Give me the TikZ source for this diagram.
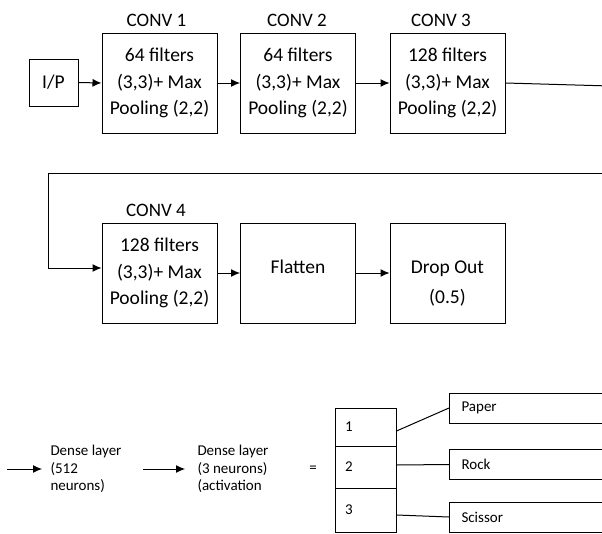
\documentclass[tikz,border=0pt]{standalone}
\usepackage{fontspec}
\setmainfont{Carlito}
\usetikzlibrary{positioning,arrows.meta}

\begin{document}
\begin{tikzpicture}[
    x=1pt, y=-1pt, line width=1pt,
    layer/.style={draw, minimum width=115pt, minimum height=100pt,
                  align=center, inner sep=0pt,
                  font=\fontsize{19.5}{26.5}\selectfont},
    title/.style={font=\fontsize{19}{22}\selectfont},
    dense/.style={anchor=west, align=left, inner sep=0pt,
                  font=\fontsize{15}{17.5}\selectfont},
    cell/.style={draw, minimum width=61pt, text width=41pt, inner xsep=10pt,
                 inner ysep=0pt, align=left, font=\fontsize{15}{17}\selectfont},
    cls/.style={draw, minimum height=30pt, text width=137pt, inner xsep=12pt,
                inner ysep=0pt, align=left, anchor=west,
                font=\fontsize{15}{17}\selectfont},
    flow/.style={-{Latex[length=9pt,width=8pt]}, line width=1pt},
]
\useasboundingbox (0,0) rectangle (602,533);
\clip (0,0) rectangle (602,533);

% First row
\node[draw, minimum width=49pt, minimum height=47pt, inner sep=0pt,
      font=\fontsize{19.5}{22}\selectfont] (ip) at (53.5,82.5) {I/P};
\node[layer] (conv1) at (159.5,83)
    {64 filters\\(3,3)+ Max\\Pooling (2,2)};
\node[layer] (conv2) at (298,83)
    {64 filters\\(3,3)+ Max\\Pooling (2,2)};
\node[layer] (conv3) at (447.5,83)
    {128 filters\\(3,3)+ Max\\Pooling (2,2)};
\node[title] (t1) at (156.5,20) {CONV 1};
\node[title] (t2) at (297,20) {CONV 2};
\node[title] (t3) at (441,20) {CONV 3};

\draw[flow] (ip.east) -- (conv1.west);
\draw[flow] (conv1.east) -- (conv2.west);
\draw[flow] (conv2.east) -- (conv3.west);

% Second row
\node[layer] (conv4) at (159.5,273)
    {128 filters\\(3,3)+ Max\\Pooling (2,2)};
\node[layer, text height=0pt, text depth=0pt] (flat) at (298,273) {Flatten};
\node[layer, font=\fontsize{19.5}{30}\selectfont,
      text height=60pt, text depth=0pt] (drop) at (447.5,273) {Drop Out\\(0.5)};
\node[title] (t4) at (156,210) {CONV 4};

\draw[flow] (conv4.east) -- (flat.west);
\draw[flow] (flat.east) -- (drop.west);

% Wrap round to the second row
\coordinate (edge1) at (610,86);
\coordinate (edge2) at (610,173);
\coordinate (bend) at (48,173);
\draw (conv3.east) -- (edge1);
\draw[flow] (edge2) -- (bend) |- ([yshift=5pt]conv4.west);

% Dense layers
\coordinate (in1) at (7,469);
\coordinate (out1) at (42,469);
\coordinate (in2) at (143,469);
\coordinate (out2) at (185,469);
\draw[flow] (in1) -- (out1);
\node[dense] (dense1) at (50,469) {Dense layer\\(512\\neurons)};
\draw[flow] (in2) -- (out2);
\node[dense] (dense2) at (197,469) {Dense layer\\(3 neurons)\\(activation};
\node[font=\fontsize{15}{17}\selectfont] (eq) at (313,469) {=};

% Output cells
\node[cell, minimum height=38pt] (o1) at (365.5,427) {1};
\node[cell, minimum height=42pt] (o2) at (365.5,467) {2};
\node[cell, minimum height=44pt] (o3) at (365.5,510) {3};

% Classes
\node[cls] (paper) at (449,408) {Paper};
\node[cls] (rock) at (449,464.5) {Rock};
\node[cls] (scis) at (449,517) {Scissor};

\draw ([yshift=-4pt]o1.east) -- (paper.west);
\draw ([yshift=2pt]o2.east) -- (rock.west);
\draw ([yshift=-5pt]o3.east) -- (scis.west);
\end{tikzpicture}
\end{document}
